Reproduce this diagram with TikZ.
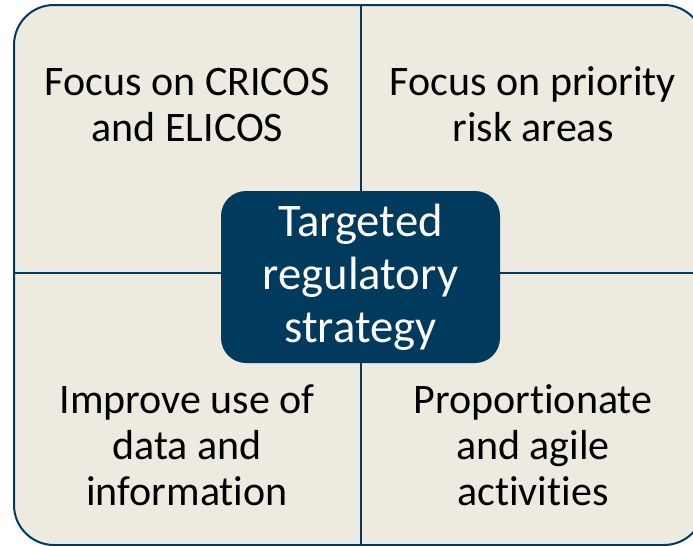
\documentclass[tikz,border=0pt]{standalone}
\usepackage{fontspec}
\setmainfont{Carlito}[Ligatures=NoCommon]
\definecolor{slate}{HTML}{003A5D}
\definecolor{parchment}{HTML}{EDEBE0}
\tikzstyle{quad}=[align=center,inner sep=0pt,anchor=base,font=\fontsize{31.5}{34.5}\selectfont]
\tikzstyle{hub}=[rounded corners=18.75pt,fill=slate,text=white,align=center,inner sep=0pt,
  minimum width=209.25pt,minimum height=129pt,font=\fontsize{35}{39.75}\selectfont]
\tikzstyle{rule}=[draw=slate,line width=1.5pt]

\begin{document}
\begin{tikzpicture}[x=0.75pt,y=-0.75pt]
	\useasboundingbox (0,0) rectangle (693,546);
	\clip (0,0) rectangle (693,546);
	%% board
	\draw [rule,fill=parchment,rounded corners=30pt] (14,5) rectangle (704,545);
	\coordinate (top) at (361,5);
	\coordinate (bot) at (361,545);
	\coordinate (west) at (14,273);
	\coordinate (east) at (704,273);
	\draw [rule] (top) -- (bot);
	\draw [rule] (west) -- (east);
	%% centre
	\node (core) at (360.5,277) [hub] {Targeted\\regulatory\\strategy};
	%% quadrants (base = last line)
	\node (cricos) at (187.5,141) [quad] {Focus on CRICOS\\and ELICOS};
	\node (risk) at (533,141) [quad] {Focus on priority\\risk areas};
	\node (data) at (187,505) [quad] {Improve use of\\data and\\information};
	\node (agile) at (533,505) [quad] {Proportionate\\and agile\\activities};
\end{tikzpicture}
\end{document}
